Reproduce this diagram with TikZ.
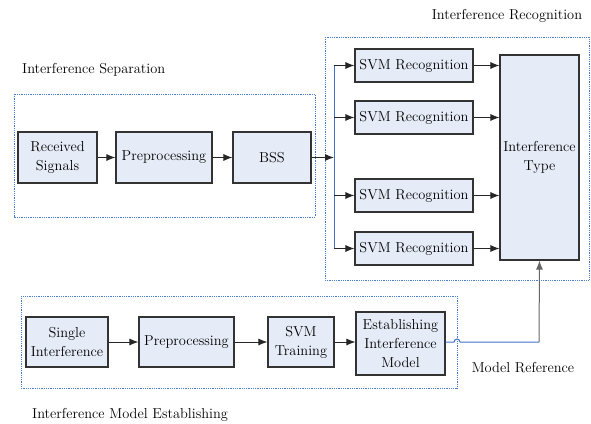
\documentclass[tikz,border=0pt]{standalone}
\usepackage{fontspec}
\usetikzlibrary{arrows.meta}
\definecolor{boxfill}{HTML}{E6ECF7}
\definecolor{groupline}{HTML}{4A7FD0}
\definecolor{linkblue}{HTML}{3F72C4}
\tikzset{
  blk/.style={draw=black!80, line width=1.1pt, fill=boxfill, inner sep=0pt,
    align=center, font=\rmfamily\fontsize{14.4}{19}\selectfont},
  grp/.style={draw=groupline, line width=0.9pt, dash pattern=on 0.9pt off 0.9pt},
  lbl/.style={font=\rmfamily\fontsize{14.4}{19}\selectfont, inner sep=0pt},
  arr/.style={draw=black!85, line width=1pt, -{Latex[length=9pt,width=7pt]}},
}
\begin{document}
\begin{tikzpicture}[x=1pt,y=-1pt]
\useasboundingbox (0,0) rectangle (591,423);

% group frames
\draw[grp] (14,94) rectangle (315,217);
\draw[grp] (325,37) rectangle (589,280);
\draw[grp] (21,296) rectangle (457,388);

% group captions
\node[lbl, anchor=west] (capsep) at (22,70) {Interference Separation};
\node[lbl] (caprec) at (507,16) {Interference Recognition};
\node[lbl] (capref) at (523,368) {Model Reference};
\node[lbl, anchor=west] (capmod) at (32,415) {Interference Model Establishing};

% separation chain
\node[blk, minimum width=79pt, minimum height=51pt] (recv) at (57.5,157.5) {Received\\Signals};
\node[blk, minimum width=96pt, minimum height=51pt] (pre1) at (164,157.5) {Preprocessing};
\node[blk, minimum width=78pt, minimum height=51pt] (bss) at (272,157.5) {BSS};

% recognition
\node[blk, minimum width=118pt, minimum height=33pt] (svm1) at (414,65.5) {SVM Recognition};
\node[blk, minimum width=118pt, minimum height=33pt] (svm2) at (414,117.5) {SVM Recognition};
\node[blk, minimum width=118pt, minimum height=33pt] (svm3) at (414,195.5) {SVM Recognition};
\node[blk, minimum width=118pt, minimum height=33pt] (svm4) at (414,248.5) {SVM Recognition};
\node[blk, minimum width=79pt, minimum height=205pt] (type) at (539.5,157.5) {Interference\\Type};

% model establishing chain
\node[blk, minimum width=82pt, minimum height=50pt] (single) at (67,342) {Single\\Interference};
\node[blk, minimum width=95pt, minimum height=50pt] (pre2) at (186.5,342) {Preprocessing};
\node[blk, minimum width=66pt, minimum height=50pt] (train) at (301,342) {SVM\\Training};
\node[blk, minimum width=89pt, minimum height=63pt] (estab) at (400.5,343.5) {Establishing\\Interference\\Model};

% bus feeding the recognisers
\coordinate (bustop) at (334,65.5);
\coordinate (busbot) at (334,248.5);
\coordinate (busin) at (334,157.5);
\draw[linkblue, line width=1pt] (bustop) -- (busbot);
\draw[arr] (bss.east) -- (busin);
\foreach \s in {svm1,svm2,svm3,svm4}{
  \draw[arr] (bustop |- \s.west) -- (\s.west);
  \draw[arr] (\s.east) -- (type.west |- \s.east);
}

% chain arrows
\draw[arr] (recv) -- (pre1);
\draw[arr] (pre1) -- (bss);
\draw[arr] (single) -- (pre2);
\draw[arr] (pre2) -- (train);
\draw[arr] (train.east) -- (estab.west |- train.east);

% model reference link with a hop over the frame
\coordinate (turn) at (539,342);
\draw[linkblue, line width=1pt] (estab.east |- turn) -- (454,342) arc[start angle=180, end angle=360, radius=3] -- (turn);
\draw[arr, draw=black!60] (turn) -- (type.south);
\end{tikzpicture}
\end{document}
